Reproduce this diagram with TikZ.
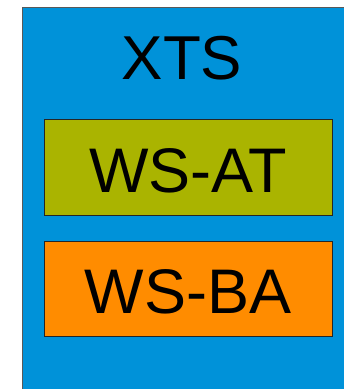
\documentclass[tikz,border=0pt]{standalone}
\usepackage{fontspec}
\setmainfont{Liberation Sans}
\usepackage{tikz}
\usepackage{color}

\definecolor{xtsblue}{RGB}{0,146,217}
\definecolor{atolive}{RGB}{170,180,0}
\definecolor{baorange}{RGB}{255,140,0}

\begin{document}
\begin{tikzpicture}[%
      x=1pt, y=-1pt,
      protobox/.style={draw=black!85, line width=1pt, rectangle,
        minimum width=288.5pt, inner sep=0pt, text height=50pt,
        font=\fontsize{63}{70}\selectfont},
      ]
      \useasboundingbox (0,0) rectangle (344,389);
      \clip (0,0) rectangle (344,389);

      \filldraw [draw=black!65, fill=xtsblue, line width=1pt] (22,7.5) rectangle (360,400);
      \node (xts) at (182,58.5) {\fontsize{62}{70}\selectfont XTS};

      \node (wsat) [protobox, fill=atolive, minimum height=96pt] at (188.25,167.5) {WS-AT};
      \node (wsba) [protobox, fill=baorange, minimum height=95pt] at (188.25,288.5) {WS-BA};
\end{tikzpicture}
\end{document}
